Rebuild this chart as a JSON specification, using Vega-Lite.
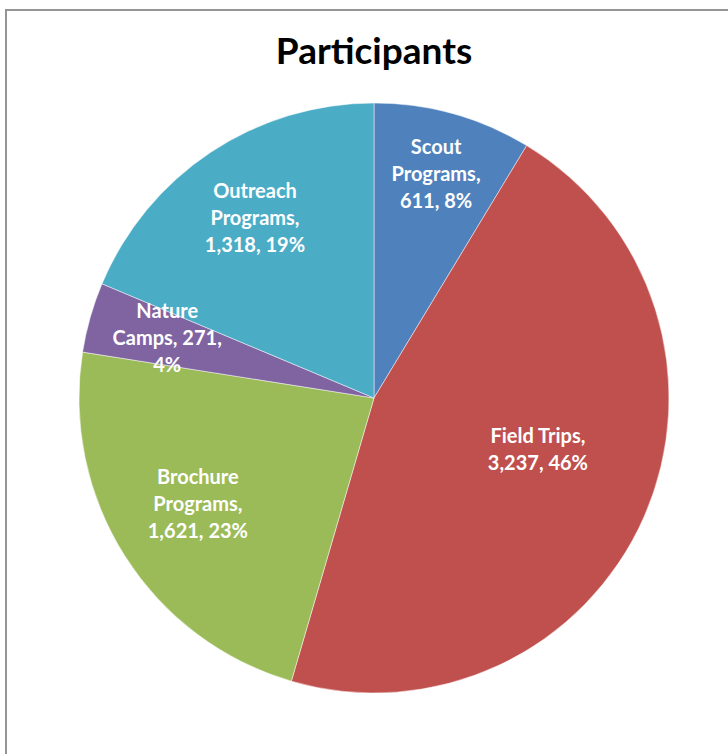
{
  "$schema": "https://vega.github.io/schema/vega-lite/v6.json",
  "autosize": "none",
  "padding": {"left": 6, "top": 10, "right": 0, "bottom": 0},
  "width": 736,
  "height": 776,
  "background": "white",
  "config": {"view": {"stroke": null}},
  "title": {
    "text": "Participants",
    "font": "Lato",
    "fontSize": 37,
    "fontWeight": "bold",
    "color": "#000000",
    "anchor": "middle",
    "frame": "group",
    "offset": -63
  },
  "data": {
    "values": [
      {"idx": 1, "name": "Scout Programs", "value": 611, "label": "Scout|Programs,|611, 8%"},
      {"idx": 2, "name": "Field Trips", "value": 3237, "label": "Field Trips,|3,237, 46%"},
      {"idx": 3, "name": "Brochure Programs", "value": 1621, "label": "Brochure|Programs,|1,621, 23%"},
      {"idx": 4, "name": "Nature Camps", "value": 271, "label": "Nature|Camps, 271,|4%"},
      {"idx": 5, "name": "Outreach Programs", "value": 1318, "label": "Outreach|Programs,|1,318, 19%"}
    ]
  },
  "layer": [
    {
      "data": {"values": [{"frame": 1}]},
      "mark": {"type": "rect", "x": 0, "y": 0, "x2": "width", "y2": "height", "fill": null, "stroke": "#959595", "strokeWidth": 2},
      "encoding": {}
    },
    {
      "mark": {"type": "arc", "radius": 295, "stroke": "#ffffff", "strokeWidth": 0.8, "strokeOpacity": 0.6},
      "encoding": {
        "theta": {"field": "value", "type": "quantitative", "stack": true},
        "order": {"field": "idx", "type": "quantitative"},
        "color": {
          "field": "name",
          "type": "nominal",
          "scale": {
            "domain": ["Scout Programs", "Field Trips", "Brochure Programs", "Nature Camps", "Outreach Programs"],
            "range": ["#4F81BD", "#C0504D", "#9BBB59", "#8064A2", "#4BACC6"]
          },
          "legend": null
        }
      }
    },
    {
      "mark": {"type": "text", "radius": 215, "dy": -27, "font": "Lato", "fontSize": 20, "fontWeight": "bold", "fill": "#ffffff", "lineBreak": "|", "lineHeight": 27, "align": "center", "baseline": "middle"},
      "encoding": {
        "theta": {"field": "value", "type": "quantitative", "stack": true},
        "order": {"field": "idx", "type": "quantitative"},
        "text": {
          "condition": {"test": "datum.name === 'Field Trips' || datum.name === 'Scout Programs' || datum.name === 'Brochure Programs'", "value": ""},
          "field": "label"
        }
      }
    },
    {
      "mark": {"type": "text", "radius": 206, "thetaOffset": 0.02, "dy": -27, "font": "Lato", "fontSize": 20, "fontWeight": "bold", "fill": "#ffffff", "lineBreak": "|", "lineHeight": 27, "align": "center", "baseline": "middle"},
      "encoding": {
        "theta": {"field": "value", "type": "quantitative", "stack": true},
        "order": {"field": "idx", "type": "quantitative"},
        "text": {
          "condition": {"test": "datum.name !== 'Brochure Programs'", "value": ""},
          "field": "label"
        }
      }
    },
    {
      "mark": {"type": "text", "radius": 231, "dy": -27, "font": "Lato", "fontSize": 20, "fontWeight": "bold", "fill": "#ffffff", "lineBreak": "|", "lineHeight": 27, "align": "center", "baseline": "middle"},
      "encoding": {
        "theta": {"field": "value", "type": "quantitative", "stack": true},
        "order": {"field": "idx", "type": "quantitative"},
        "text": {
          "condition": {"test": "datum.name !== 'Scout Programs'", "value": ""},
          "field": "label"
        }
      }
    },
    {
      "mark": {"type": "text", "radius": 172, "thetaOffset": -0.106, "dy": -13.5, "font": "Lato", "fontSize": 20, "fontWeight": "bold", "fill": "#ffffff", "lineBreak": "|", "lineHeight": 27, "align": "center", "baseline": "middle"},
      "encoding": {
        "theta": {"field": "value", "type": "quantitative", "stack": true},
        "order": {"field": "idx", "type": "quantitative"},
        "text": {
          "condition": {"test": "datum.name !== 'Field Trips'", "value": ""},
          "field": "label"
        }
      }
    }
  ]
}
